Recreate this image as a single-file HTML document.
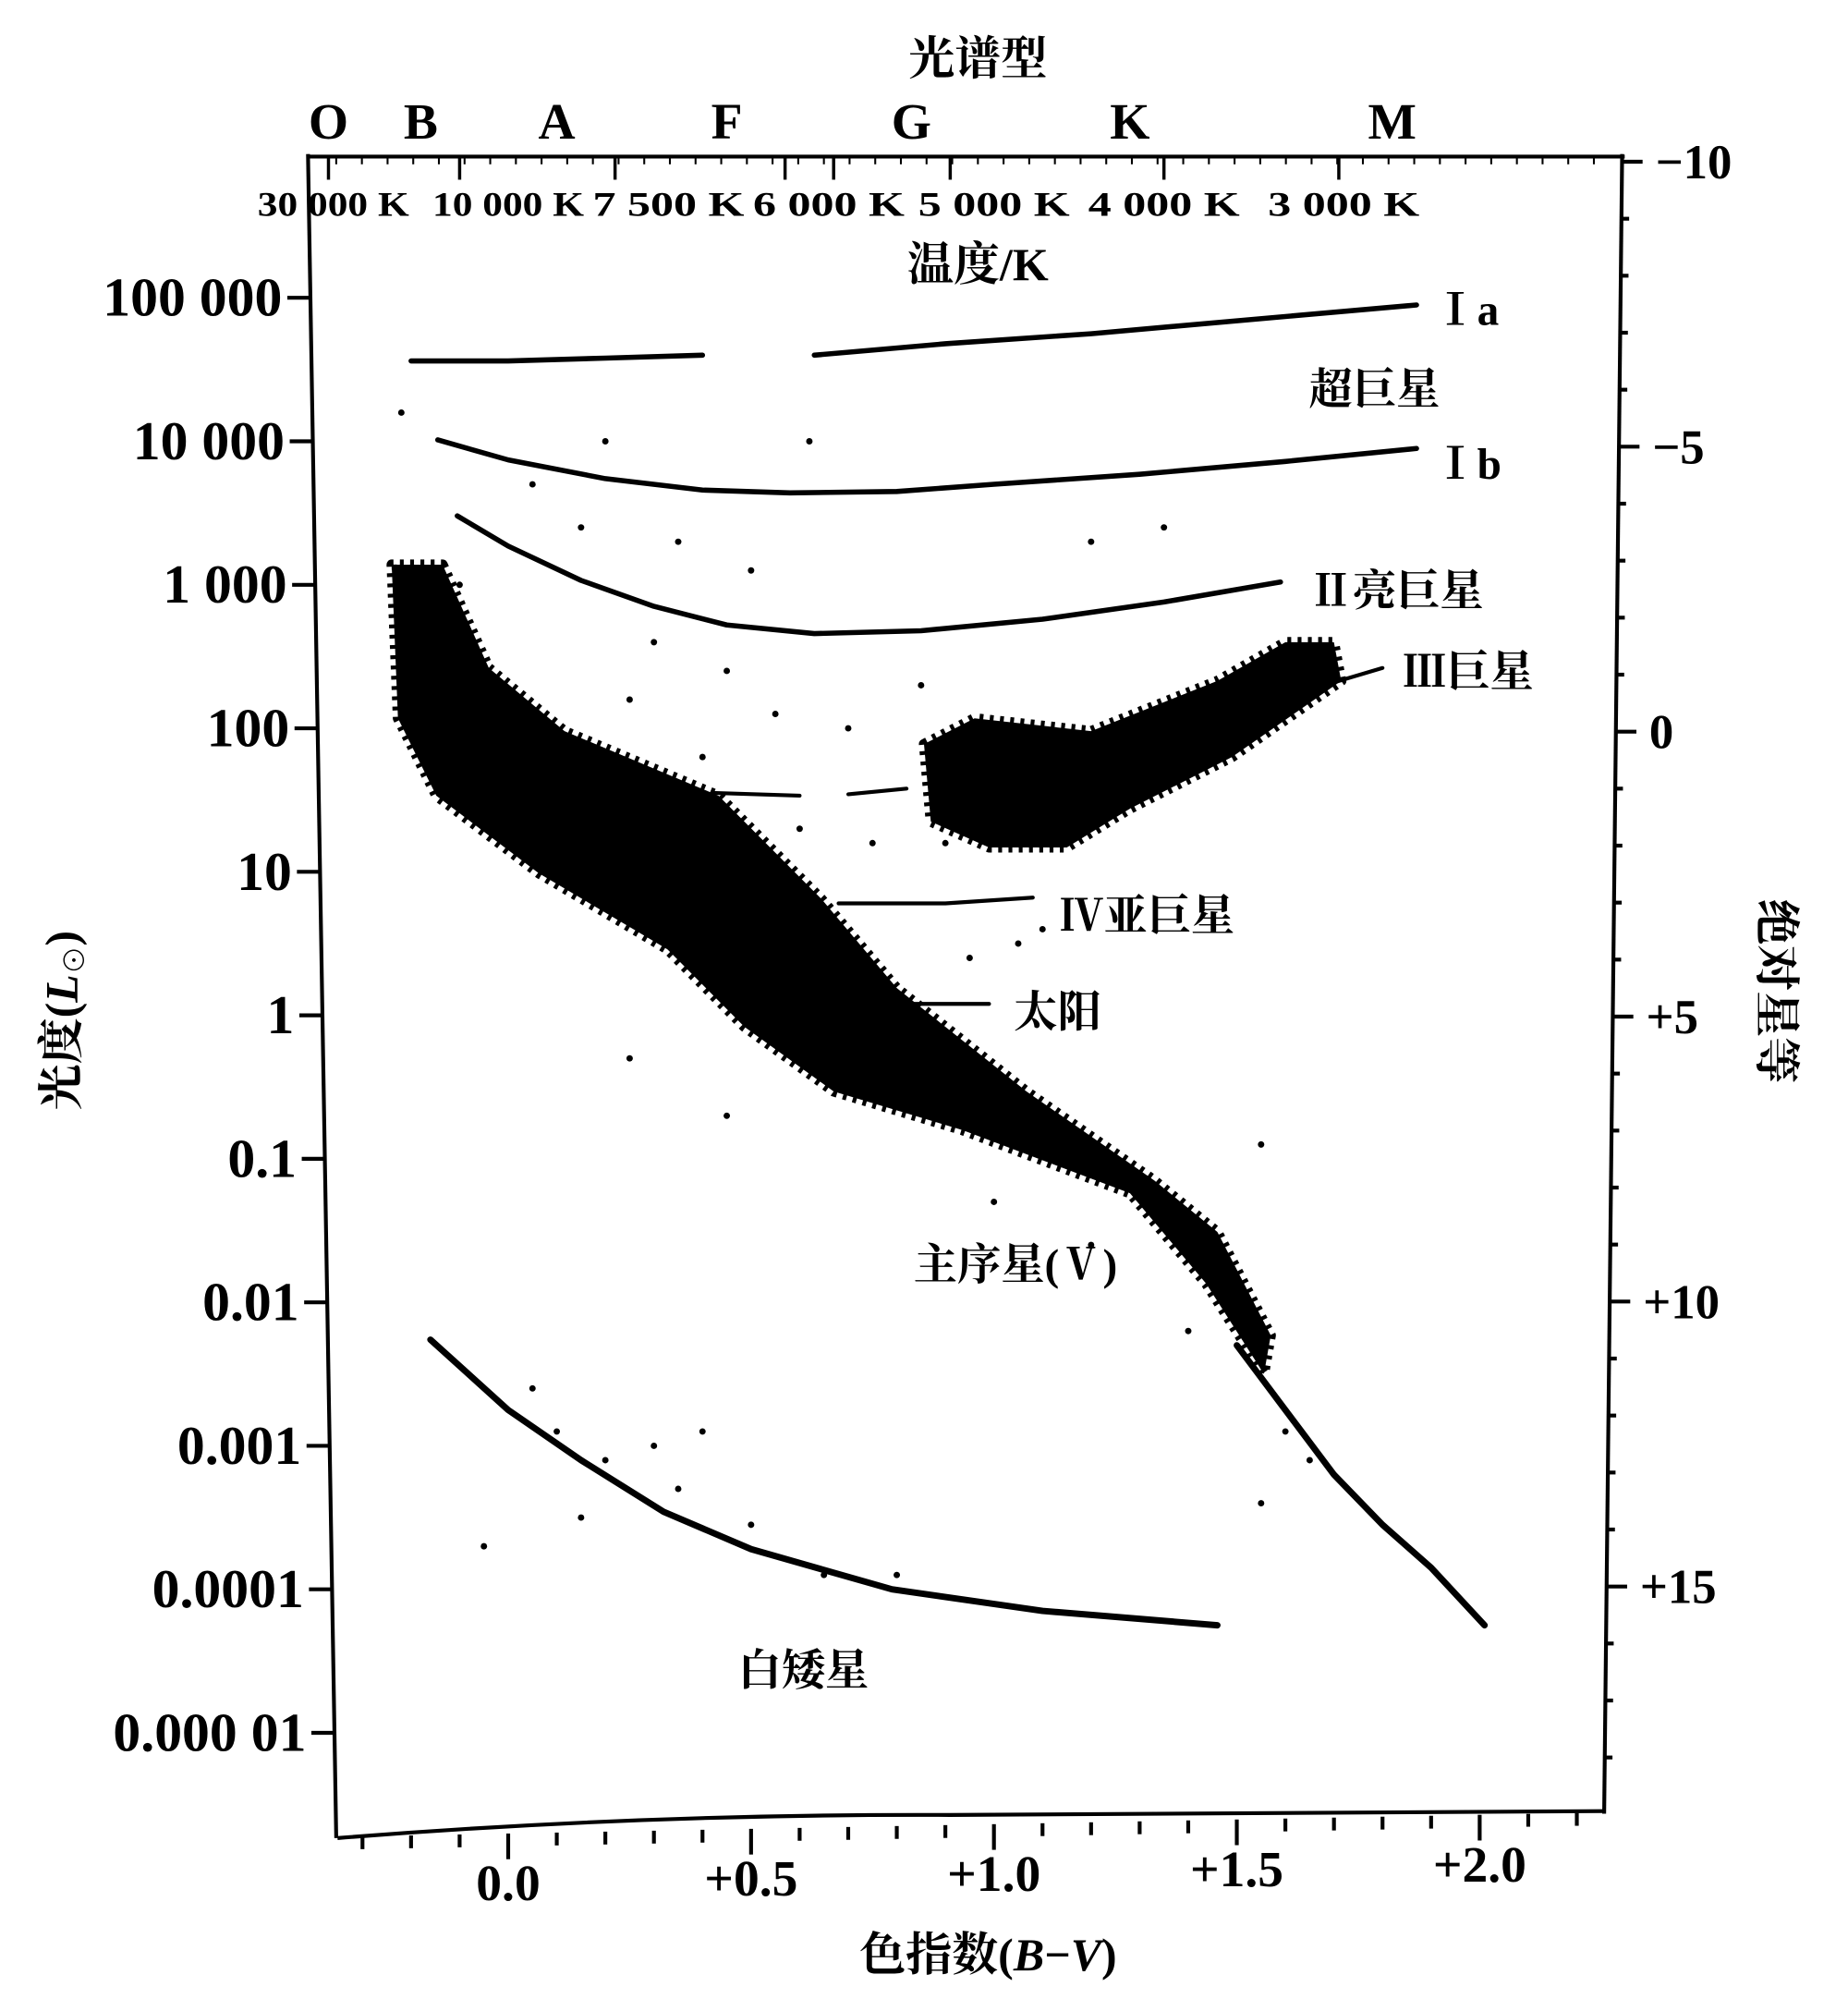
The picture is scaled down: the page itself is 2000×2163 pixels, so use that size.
<!DOCTYPE html>
<html><head><meta charset="utf-8"><style>
html,body{margin:0;padding:0;background:#fff;}
svg{display:block;}
.num{font-family:"Liberation Serif",serif;font-weight:bold;fill:#000;}
.cjk{font-family:"Liberation Serif","Noto Serif CJK SC",serif;font-weight:bold;fill:#000;}
</style></head><body>
<svg id="chart" width="2000" height="2163" viewBox="0 0 1440 1557.36" xmlns="http://www.w3.org/2000/svg">
<g id="axes"></g>
<g id="marks"></g>
<g id="labels">
<text class="cjk" x="762" y="58" font-size="36" text-anchor="middle">光谱型</text>
<text class="cjk" x="762" y="218" font-size="36" text-anchor="middle">温度/K</text>
<text class="cjk" x="770" y="1535" font-size="36" text-anchor="middle">色指数(<tspan font-style="italic">B</tspan>−<tspan font-style="italic">V</tspan>)</text>
<text class="cjk" transform="translate(60,795) rotate(-90)" font-size="36" text-anchor="middle">光度(<tspan font-style="italic">L</tspan><tspan font-size="22" dy="6">⊙</tspan><tspan dy="-6">)</tspan></text>
<text class="cjk" transform="translate(1372,772) rotate(90)" font-size="36" text-anchor="middle">绝对星等</text>
<text class="cjk" x="1117" y="253" font-size="34" font-weight="normal">Ⅰa</text>
<text class="cjk" x="1020" y="315" font-size="34">超巨星</text>
<text class="cjk" x="1117" y="373" font-size="34" font-weight="normal">Ⅰb</text>
<text class="cjk" x="1020" y="472" font-size="34">Ⅱ亮巨星</text>
<text class="cjk" x="1093" y="535" font-size="34">Ⅲ巨星</text>
<text class="cjk" x="826" y="725" font-size="34">Ⅳ亚巨星</text>
<text class="cjk" x="790" y="800" font-size="34">太阳</text>
<text class="cjk" x="712" y="997" font-size="34">主序星(Ⅴ)</text>
<text class="cjk" x="575" y="1313" font-size="34">白矮星</text>
</g>
</svg>
<script>
// ---- data ----
const lumTicks = [5,4,3,2,1,0,-1,-2,-3,-4,-5];
const lumLabels = ["100 000","10 000","1 000","100","10","1","0.1","0.01","0.001","0.0001","0.000 01"];
const magTicks = [-10,-5,0,5,10,15];
const magLabels = ["−10","−5","0","+5","+10","+15"];
const bvTicks = [0,0.5,1.0,1.5,2.0];
const bvLabels = ["0.0","+0.5","+1.0","+1.5","+2.0"];
const tempBV = [-0.37,-0.10,0.22,0.57,0.67,0.91,1.35,1.71];
const tempLabels = ["30 000 K","10 000 K","7 500 K","6 000 K","5 000 K","4 000 K","3 000 K"];
const tempLabelBV = [-0.36,0.0,0.33,0.66,1.0,1.35,1.72];
const specLetters = ["O","B","A","F","G","K","M"];
const specBV = [-0.37,-0.18,0.10,0.45,0.83,1.28,1.82];
// luminosity class curves [bv, logL]
const curveIa1 = [[-0.2,4.56],[0.0,4.56],[0.2,4.58],[0.4,4.6]];
const curveIa2 = [[0.63,4.6],[0.9,4.68],[1.2,4.75],[1.5,4.84],[1.87,4.95]];
const curveIb = [[-0.145,4.01],[0.0,3.87],[0.2,3.74],[0.4,3.66],[0.58,3.64],[0.8,3.65],[1.0,3.7],[1.3,3.77],[1.6,3.86],[1.87,3.95]];
const curveII = [[-0.105,3.48],[0.0,3.27],[0.15,3.03],[0.3,2.85],[0.45,2.72],[0.63,2.66],[0.85,2.68],[1.1,2.76],[1.35,2.88],[1.59,3.02]];
const curveIII1 = [[0.42,1.55],[0.6,1.53]];
const curveIII2 = [[0.7,1.54],[0.82,1.58]];
const curveIII3 = [[1.68,2.3],[1.8,2.42]];
const curveIV = [[0.68,0.78],[0.9,0.78],[1.08,0.82]];
const curveSun = [[0.8,0.08],[0.99,0.08]];
const curveWD = [[-0.16,-2.26],[0.0,-2.75],[0.15,-3.1],[0.32,-3.46],[0.5,-3.72],[0.79,-4.0],[1.1,-4.15],[1.46,-4.25]];
const msTail = [[1.5,-2.3],[1.6,-2.75],[1.7,-3.2],[1.8,-3.55],[1.9,-3.85],[2.01,-4.25]];
// dense regions (polygon vertices bv, logL)
const msBand = [[-0.135,3.14],[-0.04,2.42],[0.116,1.98],[0.433,1.53],[0.645,0.81],[0.80,0.19],[1.067,-0.53],[1.33,-1.15],[1.46,-1.51],[1.57,-2.23],[1.556,-2.5],[1.437,-1.87],[1.28,-1.24],[0.935,-0.80],[0.67,-0.53],[0.486,-0.08],[0.328,0.46],[0.063,0.99],[-0.148,1.53],[-0.227,2.07],[-0.24,3.14]];
const giantBranch = [[0.856,1.89],[0.96,2.07],[1.2,1.98],[1.46,2.33],[1.6,2.6],[1.70,2.6],[1.715,2.33],[1.49,1.8],[1.28,1.44],[1.15,1.17],[0.99,1.17],[0.87,1.35]];
const scatterBV = [-0.22,0.05,0.2,0.35,0.5,0.62,0.45,0.7,0.85,1.2,1.35,-0.1,0.3,0.55,0.9,1.1,0.25,0.4,0.15,0.6,0.75,0.95,1.05,1.55,0.05,0.1,0.2,0.3,0.35,0.4,-0.05,0.15,0.5,0.65,0.8,1.0,1.2,1.4,1.6,1.55,1.65,0.25,0.45];
const scatterL = [4.2,3.7,4.0,3.3,3.1,4.0,2.4,2.0,2.3,3.3,3.4,3.0,2.6,2.1,1.2,0.6,2.2,1.8,3.4,1.3,1.2,0.4,0.5,-0.9,-2.6,-2.9,-3.1,-3.0,-3.3,-2.9,-3.7,-3.5,-3.55,-3.9,-3.9,-1.3,-1.6,-2.2,-2.9,-3.4,-3.1,-0.3,-0.7];

// ---- scales (viewBox units) ----
const bx = bv => 396 + bv*378.5;
const ly = l => 791 - l*111.8;
const my = m => 570 + m*44.4;
const leftX = y => 240 + (y-120)*22/1312;
const rightX = y => 1264 - (y-120)*14/1292;
const botY = x => 1431 - (x-263)*19/987;
const NS = "http://www.w3.org/2000/svg";
const axes = document.getElementById('axes');
const marks = document.getElementById('marks');
function mk(tag, attrs, parent){const e=document.createElementNS(NS,tag);for(const k in attrs)e.setAttribute(k,attrs[k]);parent.appendChild(e);return e;}

let e;
e = mk('line',{x1:240,y1:122,x2:1266,y2:122,stroke:'#000','stroke-width':3},axes);
 
e = mk('line',{x1:leftX(120),y1:120,x2:leftX(1432),y2:1432,stroke:'#000','stroke-width':3},axes);
 
e = mk('line',{x1:rightX(120),y1:120,x2:rightX(1413),y2:1413,stroke:'#000','stroke-width':3},axes);
 
e = mk('path',{d:`M263,1432 Q500,1413 740,1414 L1250,1411`,fill:'none',stroke:'#000','stroke-width':3},axes);
 

lumTicks.forEach((l,i)=>{
  const y=ly(l), x=leftX(y);
  const t=mk('line',{x1:x-18,y1:y,x2:x,y2:y,stroke:'#000','stroke-width':3},axes);
   
  const tx=mk('text',{x:x-22,y:y+14,'font-size':43,'text-anchor':'end',class:'num'},axes);
  tx.textContent=lumLabels[i];
   
});
for(let m=-10;m<=18;m++){
  const y=my(m); if(y>1413) break; const x=rightX(y);
  const major=magTicks.includes(m);
  const t=mk('line',{x1:x,y1:y,x2:x+(major?16:6),y2:y,stroke:'#000','stroke-width':3},axes);
   
}
magTicks.forEach((m,i)=>{
  const y=my(m);
  const tx=mk('text',{x:rightX(y)+26,y:y+13,'font-size':38,class:'num','font-weight':'normal'},axes);
  tx.textContent=magLabels[i];
   
});
for(let k=-3;k<=22;k++){
  const bv=k/10, x=bx(bv); if(x<268||x>1250) continue;
  const y=botY(x); const major=Math.abs(k%5)===0;
  const t=mk('line',{x1:x,y1:y,x2:x,y2:y+(major?20:10),stroke:'#000','stroke-width':3},axes);
   
}
bvTicks.forEach((b,i)=>{
  const x=bx(b);
  const tx=mk('text',{x:x,y:botY(x)+52,'font-size':40,'text-anchor':'middle',class:'num'},axes);
  tx.textContent=bvLabels[i];
   
});
tempBV.forEach(b=>{
  const x=bx(b);
  const t=mk('line',{x1:x,y1:122,x2:x,y2:140,stroke:'#000','stroke-width':2.5},axes);
   
});
for(let x=262;x<1260;x+=20){
  const t=mk('line',{x1:x,y1:122,x2:x,y2:128,stroke:'#000','stroke-width':1.5},axes);
   
}
tempLabels.forEach((s,i)=>{
  const tx=mk('text',{x:bx(tempLabelBV[i]),y:168,'font-size':27,'text-anchor':'middle',class:'num',textLength:118,lengthAdjust:'spacingAndGlyphs'},axes);
  tx.textContent=s;
   
});
specLetters.forEach((s,i)=>{
  const tx=mk('text',{x:bx(specBV[i]),y:108,'font-size':40,'text-anchor':'middle',class:'num','font-weight':'normal'},axes);
  tx.textContent=s;
   
});

const pts = arr => arr.map(p=>`${bx(p[0]).toFixed(1)},${ly(p[1]).toFixed(1)}`).join(' ');
function poly(arr,name,w){
  const p=mk('polyline',{points:pts(arr),fill:'none',stroke:'#000','stroke-width':w,'stroke-linejoin':'round','stroke-linecap':'round'},marks);
   
}
function area(arr,name){
  const p=mk('polygon',{points:pts(arr),fill:'#000',stroke:'#000','stroke-width':8,'stroke-linejoin':'round','stroke-dasharray':'3 5'},marks);
   
}
area(msBand,'main-sequence-band');
area(giantBranch,'giant-branch');
poly(msTail,'main-sequence-tail',5);
poly(curveIa1,'curve-ia',4); poly(curveIa2,'curve-ia',4);
poly(curveIb,'curve-ib',4);
poly(curveII,'curve-ii',4);
poly(curveIII1,'curve-iii',3); poly(curveIII2,'curve-iii',3); poly(curveIII3,'curve-iii',3);
poly(curveIV,'curve-iv',3);
poly(curveSun,'sun-pointer',3);
poly(curveWD,'white-dwarf-sequence',5);
scatterBV.forEach((b,i)=>{
  const c=mk('circle',{cx:bx(b),cy:ly(scatterL[i]),r:2.5,fill:'#000'},marks);
   
});
</script>
</body></html>
